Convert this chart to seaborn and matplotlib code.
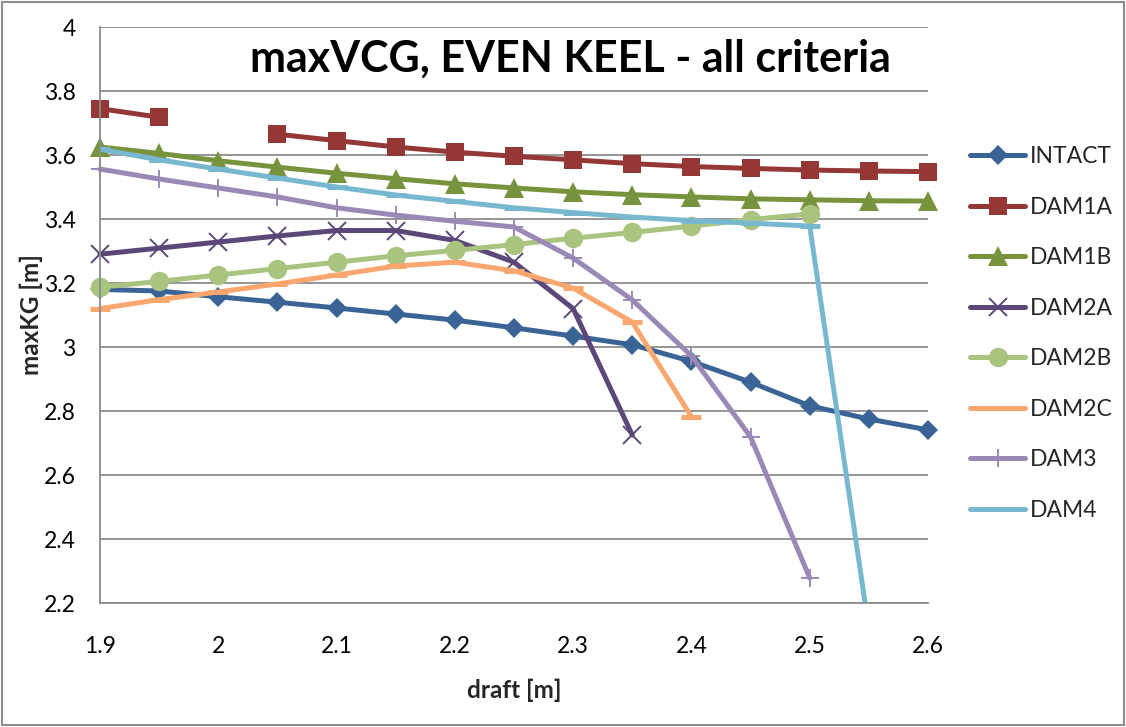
import numpy as np
import matplotlib
matplotlib.use("Agg")
import matplotlib.pyplot as plt
import seaborn as sns
from matplotlib.patches import Rectangle

# Draft values (m) at which the maximum allowable KG was evaluated
drafts = [1.9, 1.95, 2.0, 2.05, 2.1, 2.15, 2.2, 2.25, 2.3, 2.35, 2.4, 2.45, 2.5, 2.55, 2.6]

# maxKG (m) per loading / damage case; None marks a missing result
intact = [3.18, 3.175, 3.157, 3.14, 3.122, 3.103, 3.084, 3.06, 3.034, 3.007, 2.955, 2.89, 2.816, 2.775, 2.741]
dam1a = [3.745, 3.718, None, 3.665, 3.645, 3.625, 3.609, 3.596, 3.585, 3.573, 3.564, 3.558, 3.553, 3.55, 3.548]
dam1b = [3.625, 3.605, 3.582, 3.562, 3.543, 3.526, 3.51, 3.497, 3.485, 3.476, 3.469, 3.463, 3.46, 3.457, 3.456]
dam2a = [3.29, 3.309, 3.328, 3.347, 3.364, 3.364, 3.333, 3.265, 3.12, 2.725]
dam2b = [3.187, 3.205, 3.225, 3.245, 3.265, 3.285, 3.302, 3.32, 3.34, 3.358, 3.378, 3.398, 3.416]
dam2c = [3.12, 3.148, 3.172, 3.197, 3.225, 3.253, 3.265, 3.238, 3.184, 3.078, 2.782]
dam3 = [3.556, 3.525, 3.497, 3.469, 3.435, 3.412, 3.393, 3.375, 3.278, 3.147, 2.972, 2.719, 2.278]
dam4 = [3.618, 3.585, 3.556, 3.528, 3.5, 3.475, 3.455, 3.435, 3.42, 3.406, 3.395, 3.387, 3.378, 2.12]

series_names = ["INTACT", "DAM1A", "DAM1B", "DAM2A", "DAM2B", "DAM2C", "DAM3", "DAM4"]
series_values = [intact, dam1a, dam1b, dam2a, dam2b, dam2c, dam3, dam4]

x_ticks = [1.9, 2.0, 2.1, 2.2, 2.3, 2.4, 2.5, 2.6]
x_tick_labels = ["1.9", "2", "2.1", "2.2", "2.3", "2.4", "2.5", "2.6"]
y_ticks = [2.2, 2.4, 2.6, 2.8, 3.0, 3.2, 3.4, 3.6, 3.8, 4.0]
y_tick_labels = ["2.2", "2.4", "2.6", "2.8", "3", "3.2", "3.4", "3.6", "3.8", "4"]

title_text = "maxVCG, EVEN KEEL - all criteria"
x_label = "draft [m]"
y_label = "maxKG [m]"

# line / marker style per series
styles = {
    "INTACT": dict(color="#3A6496", marker="D", markersize=10, mew=0, mec="#3A6496", clip_on=False),
    "DAM1A": dict(color="#953735", marker="s", markersize=13.5, mew=0, mec="#953735", clip_on=False),
    "DAM1B": dict(color="#77933C", marker="^", markersize=14.5, mew=0, mec="#77933C", clip_on=False),
    "DAM2A": dict(color="#5C4779", marker="x", markersize=13, mew=1.4, mec="#5C4779", clip_on=False),
    "DAM2B": dict(color="#A9C47F", marker="o", markersize=14, mew=0, mec="#A9C47F", clip_on=False),
    "DAM2C": dict(color="#F9A66F", marker="_", markersize=15, mew=3.6, mec="#F9A66F", clip_on=False),
    "DAM3": dict(color="#9A89B6", marker="+", markersize=13, mew=1.4, mec="#9A89B6", clip_on=False),
    "DAM4": dict(color="#77B8D0", marker="_", markersize=15, mew=3.6, mec="#77B8D0", clip_on=True),
}

sns.set_style("white")
plt.rcParams["font.family"] = ["Lato", "DejaVu Sans"]

W, H = 1126, 727
fig = plt.figure(figsize=(W / 100, H / 100), dpi=100)
ax = fig.add_axes([100 / W, 1 - 603 / H, 828 / W, 576 / H])

grid_color = "#8C8C8C"

for name, values in zip(series_names, series_values):
    st = styles[name]
    x = np.array(drafts[:len(values)], dtype=float)
    y = np.array([np.nan if v is None else v for v in values], dtype=float)
    valid = ~np.isnan(y)
    seg_id = np.cumsum(~valid)
    first = True
    for sid in np.unique(seg_id[valid]):
        m = valid & (seg_id == sid)
        sns.lineplot(
            x=x[m], y=y[m], ax=ax, estimator=None, sort=False,
            color=st["color"], linewidth=3.6, marker=st["marker"],
            markersize=st["markersize"], markeredgewidth=st["mew"],
            markeredgecolor=st["mec"], markerfacecolor=st["color"],
            solid_capstyle="round", solid_joinstyle="round",
            clip_on=st["clip_on"],
            label=name if first else "_nolegend_",
        )
        first = False

ax.set_xlim(1.9, 2.6)
ax.set_ylim(2.2, 4.0)
ax.set_xticks(x_ticks)
ax.set_xticklabels(x_tick_labels)
ax.set_yticks(y_ticks)
ax.set_yticklabels(y_tick_labels)

ax.set_axisbelow(True)
ax.yaxis.grid(True, color=grid_color, linewidth=1.3)
ax.xaxis.grid(False)
for side in ["top", "right"]:
    ax.spines[side].set_visible(False)
for side in ["left", "bottom"]:
    ax.spines[side].set_color(grid_color)
    ax.spines[side].set_linewidth(1.3)

ax.tick_params(axis="both", direction="out", length=5.5, width=1.3, color=grid_color,
               labelsize=16.5, labelcolor="black")
ax.tick_params(axis="x", pad=18)
ax.tick_params(axis="y", pad=12)

ax.set_xlabel(x_label, fontsize=17.5, fontweight="bold", va="center")
ax.xaxis.set_label_coords(0.5, (603 - 690) / 576)
ax.set_ylabel(y_label, fontsize=17.5, fontweight="bold", va="center")
ax.yaxis.set_label_coords((31 - 100) / 828, 0.5)

fig.text(570 / W, 1 - 72 / H, title_text, ha="center", va="baseline",
         fontsize=31, fontweight="bold", color="black")

handles, labels = ax.get_legend_handles_labels()
ax.legend(handles, labels, loc="upper left",
          bbox_to_anchor=(970 / W, 1 - 146 / H), bbox_transform=fig.transFigure,
          frameon=False, fontsize=16.5, handlelength=2.4, handletextpad=0.2,
          labelspacing=1.29, borderaxespad=0, borderpad=0)

fig.patches.append(Rectangle((2 / W, 2 / H), (W - 4) / W, (H - 4) / H,
                             transform=fig.transFigure, fill=False,
                             edgecolor=grid_color, linewidth=1.5))

fig.savefig("out.png", dpi=100)
